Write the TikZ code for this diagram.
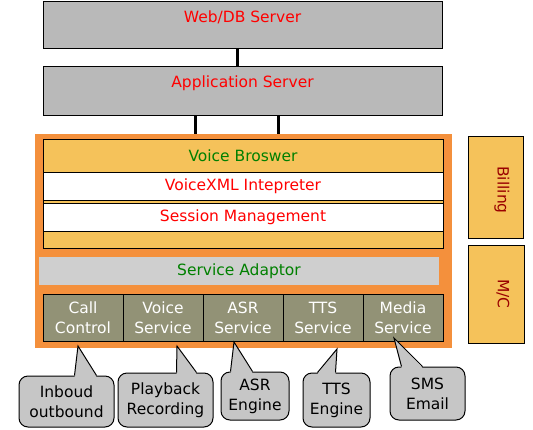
\documentclass[tikz,border=0pt]{standalone}
\usepackage{fontspec}
\setmainfont{DejaVu Sans}
\usetikzlibrary{calc, positioning}
\definecolor{srvred}{HTML}{FF0000}
\definecolor{vbgreen}{HTML}{008000}
\definecolor{billred}{HTML}{990000}
\definecolor{srvgray}{HTML}{B9B9B9}
\definecolor{adaptgray}{HTML}{CFCFCF}
\definecolor{frameorange}{HTML}{F4903C}
\definecolor{vbyellow}{HTML}{F5C25A}
\definecolor{cellolive}{HTML}{929276}
\definecolor{bubblegray}{HTML}{C6C6C6}

\begin{document}
\begin{tikzpicture}[x=1pt, y=-1pt,
	txt/.style={font=\fontsize{15.5}{20}\selectfont, inner sep=0pt, align=center},
	box/.style={draw, line width=1pt, inner sep=0pt, txt},
	server/.style={box, fill=srvgray, minimum width=399pt},
	link/.style={line width=3pt},
	cell/.style={box, fill=cellolive, text=white, minimum width=80pt, minimum height=47pt},
	side/.style={box, fill=vbyellow, minimum width=55pt},
	bubble/.style={draw, line width=1pt, fill=bubblegray, rounded corners=9pt, inner sep=0pt, txt},
	ptr/.style={line width=1pt}]
			\useasboundingbox (0,0) rectangle (533,429);
			
			% Servers
			\node[server, minimum height=47pt] (db) at (242.5,24.5) {};
			\node[txt, text=srvred] (dbtext) at (242.5,17) {Web/DB Server};
			\node[server, minimum height=49pt] (app) at (242.5,90.5) {};
			\node[txt, text=srvred] (apptext) at (242.5,83) {Application Server};
			
			% Orange frame
			\node[fill=frameorange, inner sep=0pt, minimum width=417pt, minimum height=214pt] (frame) at (243.5,241) {};
			
			% Links
			\coordinate (l0) at ([xshift=-5pt]db.south);
			\coordinate (l1) at ([xshift=-47pt]app.south);
			\coordinate (l2) at ([xshift=36pt]app.south);
			\draw[link] (l0) -- (l0 |- app.north);
			\draw[link] (l1) -- (l1 |- frame.north);
			\draw[link] (l2) -- (l2 |- frame.north);
			
			% Voice browser
			\node[box, fill=vbyellow, minimum width=400pt, minimum height=109pt] (vb) at (243,193.5) {};
			\node[txt, text=vbgreen] (vbtext) at (243,156) {Voice Broswer};
			\node[box, fill=white, text=srvred, minimum width=400pt, minimum height=28pt] (vxml) at (243,186) {VoiceXML Intepreter};
			\node[box, fill=white, text=srvred, minimum width=400pt, minimum height=28pt] (sess) at (243,217) {Session Management};
			
			% Adaptor and services
			\node[txt, fill=adaptgray, text=vbgreen, minimum width=400pt, minimum height=28pt] (adapt) at (239,271) {Service Adaptor};
			\node[cell] (call) at (83,318) {Call\\Control};
			\node[cell, right=-1pt of call] (voice) {Voice\\Service};
			\node[cell, right=-1pt of voice] (asr) {ASR\\Service};
			\node[cell, right=-1pt of asr] (tts) {TTS\\Service};
			\node[cell, right=-1pt of tts] (media) {Media\\Service};
			
			% Side boxes
			\node[side, minimum height=102pt] (bill) at (495.5,187) {};
			\node[txt, rotate=-90, text=billred] (billtext) at (502,190) {Billing};
			\node[side, minimum width=56pt, minimum height=98pt] (mc) at (496,294) {};
			\node[txt, rotate=-90, text=billred] (mctext) at (503,294) {M/C};
			
			% Callouts
			\coordinate (inbtip) at (78,346);
			\coordinate (playtip) at (177,346);
			\coordinate (asrtip) at (234,342);
			\coordinate (ttstip) at (337,349);
			\coordinate (smstip) at (394,338);
			\node[bubble, minimum width=95pt, minimum height=51pt] (inb) at (66.5,401.5) {Inboud\\outbound};
			\node[bubble, minimum width=95pt, minimum height=54pt] (play) at (165.5,400) {Playback\\Recording};
			\node[bubble, minimum width=68pt, minimum height=48pt] (asreng) at (255,396) {ASR\\Engine};
			\node[bubble, minimum width=67pt, minimum height=54pt] (ttseng) at (336.5,400) {TTS\\Engine};
			\node[bubble, minimum width=75pt, minimum height=53pt] (sms) at (427.5,393.5) {SMS\\Email};
			
			% Pointers
			\fill[bubblegray] ($(inb.north west)+(56,1.5)$) -- (inbtip) -- ($(inb.north west)+(78,1.5)$) -- cycle;
			\draw[ptr] ($(inb.north west)+(56,0)$) -- (inbtip) -- ($(inb.north west)+(78,0)$);
			\fill[bubblegray] ($(play.north west)+(59,1.5)$) -- (playtip) -- ($(play.north west)+(79,1.5)$) -- cycle;
			\draw[ptr] ($(play.north west)+(59,0)$) -- (playtip) -- ($(play.north west)+(79,0)$);
			\fill[bubblegray] ($(asreng.north west)+(10,1.5)$) -- (asrtip) -- ($(asreng.north west)+(32,1.5)$) -- cycle;
			\draw[ptr] ($(asreng.north west)+(10,0)$) -- (asrtip) -- ($(asreng.north west)+(32,0)$);
			\fill[bubblegray] ($(ttseng.north west)+(15,1.5)$) -- (ttstip) -- ($(ttseng.north west)+(33,1.5)$) -- cycle;
			\draw[ptr] ($(ttseng.north west)+(15,0)$) -- (ttstip) -- ($(ttseng.north west)+(33,0)$);
			\fill[bubblegray] ($(sms.north west)+(12,1.5)$) -- (smstip) -- ($(sms.north west)+(33,1.5)$) -- cycle;
			\draw[ptr] ($(sms.north west)+(12,0)$) -- (smstip) -- ($(sms.north west)+(33,0)$);
		\end{tikzpicture}
\end{document}
